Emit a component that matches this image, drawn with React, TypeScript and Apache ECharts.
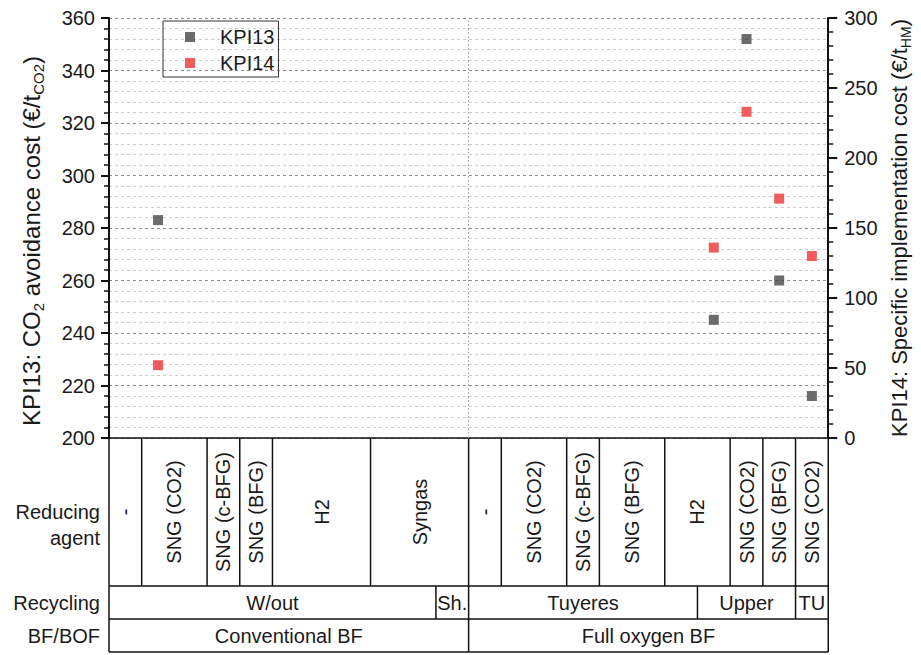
import React, { useEffect, useRef } from 'react';
import * as echarts from 'echarts';

// ---- data ----
const scenarioPositions = [1.5, 18.5, 19.5, 20.5, 21.5];
const kpi13Values = [283, 245, 352, 260, 216];
const kpi14Values = [52, 136, 233, 171, 130];

const reducingLabels = ['-', 'SNG (CO2)', 'SNG (c-BFG)', 'SNG (BFG)', 'H2', 'Syngas', '-', 'SNG (CO2)', 'SNG (c-BFG)', 'SNG (BFG)', 'H2', 'SNG (CO2)', 'SNG (BFG)', 'SNG (CO2)'];
const reducingSpans = [1, 2, 1, 1, 3, 3, 1, 2, 1, 2, 2, 1, 1, 1];
const recyclingLabels = ['W/out', 'Sh.', 'Tuyeres', 'Upper', 'TU'];
const recyclingSpans = [10, 1, 7, 3, 1];
const furnaceLabels = ['Conventional BF', 'Full oxygen BF'];
const furnaceSpans = [11, 11];
const rowTitles = ['Reducing\nagent', 'Recycling', 'BF/BOF'];
const separatorPosition = [11];

const FONT = '"Liberation Sans", Arial, sans-serif';
const TXT = '#1a1a1a';

export default function App() {
  const ref = useRef<HTMLDivElement>(null);
  useEffect(() => {
    if (!ref.current) return;
    const chart = echarts.init(ref.current, null, { renderer: 'svg' });
    const total = reducingSpans.reduce((a, b) => a + b, 0);
    chart.setOption({
      animation: false,
      textStyle: { fontFamily: FONT },
      grid: { left: 109, right: 84, top: 18, bottom: 217 },
      legend: {
        left: 163, top: 21, orient: 'vertical',
        borderColor: '#333', borderWidth: 1, borderRadius: 0,
        padding: [6, 4, 4, 22], itemGap: 6, itemWidth: 10, itemHeight: 10,
        icon: 'rect',
        textStyle: { fontSize: 20, color: TXT, fontFamily: FONT, padding: [0, 0, 0, 20] },
        data: ['KPI13', 'KPI14'],
      },
      xAxis: {
        type: 'value', min: 0, max: total,
        axisLine: { show: true, lineStyle: { color: '#111', width: 1.5 } },
        axisTick: { show: false }, axisLabel: { show: false }, splitLine: { show: false },
      },
      yAxis: [
        {
          type: 'value', min: 200, max: 360, interval: 20, position: 'left',
          name: '{n|KPI13: CO}{s|2}{n| avoidance cost (€/t}{s|CO2}{n|)}',
          nameLocation: 'middle', nameGap: 63, nameRotate: 90,
          nameTextStyle: {
            padding: [0, 26, 0, 0],
            rich: {
              n: { fontSize: 24, color: TXT, fontFamily: FONT },
              s: { fontSize: 15, color: TXT, fontFamily: FONT, padding: [14, 0, 0, 0] },
            },
          },
          axisLine: { show: true, lineStyle: { color: '#111', width: 2 } },
          axisTick: { show: true, inside: false, length: 8, lineStyle: { color: '#111', width: 2 } },
          minorTick: { show: true, splitNumber: 5, length: 5, lineStyle: { color: '#111', width: 1.5 } },
          axisLabel: { fontSize: 20, color: TXT, margin: 14, fontFamily: FONT },
          splitLine: { show: true, lineStyle: { color: '#8c8c8c', type: [3, 3], width: 1 } },
          minorSplitLine: { show: true, lineStyle: { color: '#cccccc', type: [3, 3], width: 1 } },
        },
        {
          type: 'value', min: 0, max: 300, interval: 50, position: 'right',
          name: '{n|KPI14: Specific implementation cost (€/t}{s|HM}{n|)}',
          nameLocation: 'middle', nameGap: 56, nameRotate: 90,
          nameTextStyle: {
            rich: {
              n: { fontSize: 22, color: TXT, fontFamily: FONT },
              s: { fontSize: 14, color: TXT, fontFamily: FONT, padding: [13, 0, 0, 0] },
            },
          },
          axisLine: { show: true, lineStyle: { color: '#111', width: 2 } },
          axisTick: { show: true, inside: false, length: 9, lineStyle: { color: '#111', width: 2 } },
          minorTick: { show: true, splitNumber: 5, length: 5, lineStyle: { color: '#111', width: 1.5 } },
          axisLabel: { fontSize: 20, color: TXT, margin: 16, fontFamily: FONT },
          splitLine: { show: false },
        },
      ],
      series: [
        {
          name: 'KPI13', type: 'scatter', yAxisIndex: 0, symbol: 'rect', symbolSize: 10,
          itemStyle: { color: '#474747' },
          data: scenarioPositions.map((x, i) => [x, kpi13Values[i]]),
          markLine: {
            silent: true, symbol: 'none', label: { show: false },
            lineStyle: { color: '#b0b0b0', type: [2, 2], width: 1 },
            data: separatorPosition.map((x) => ({ xAxis: x })),
          },
        },
        {
          name: 'KPI14', type: 'scatter', yAxisIndex: 1, symbol: 'rect', symbolSize: 10,
          itemStyle: { color: '#ee3535' },
          data: scenarioPositions.map((x, i) => [x, kpi14Values[i]]),
        },
      ],
    });

    // ---- category table under the plot, positioned via the x scale ----
    const px = (v: number) => chart.convertToPixel({ xAxisIndex: 0 }, v) as number;
    const yTop = chart.convertToPixel({ yAxisIndex: 0 }, 200) as number;
    const rowHeights = [148, 33, 33];
    const rows = [
      { labels: reducingLabels, spans: reducingSpans, rotate: true },
      { labels: recyclingLabels, spans: recyclingSpans, rotate: false },
      { labels: furnaceLabels, spans: furnaceSpans, rotate: false },
    ];
    const ls = { stroke: '#111', lineWidth: 1.5 };
    const els: any[] = [];
    const xL = px(0), xR = px(total);
    let top = yTop;
    rows.forEach((row, ri) => {
      const bottom = top + rowHeights[ri];
      els.push({ type: 'line', shape: { x1: xL, y1: bottom, x2: xR, y2: bottom }, style: ls });
      els.push({ type: 'line', shape: { x1: xL, y1: top, x2: xL, y2: bottom }, style: ls });
      els.push({ type: 'line', shape: { x1: xR, y1: top, x2: xR, y2: bottom }, style: ls });
      let start = 0;
      row.labels.forEach((lab, i) => {
        const end = start + row.spans[i];
        const x1 = px(start), x2 = px(end);
        if (end < total) els.push({ type: 'line', shape: { x1: x2, y1: top, x2: x2, y2: bottom }, style: ls });
        els.push({
          type: 'text', x: (x1 + x2) / 2, y: (top + bottom) / 2,
          rotation: row.rotate ? Math.PI / 2 : 0,
          style: { text: lab, fontSize: 20, fontFamily: FONT, fill: TXT, align: 'center', verticalAlign: 'middle' },
        });
        start = end;
      });
      const titleY = ri === 0 ? top + 87 : (top + bottom) / 2;
      els.push({
        type: 'text', x: xL - 9, y: titleY,
        style: { text: rowTitles[ri], fontSize: 20, fontFamily: FONT, fill: TXT, align: 'right', verticalAlign: 'middle', lineHeight: 26 },
      });
      top = bottom;
    });
    chart.setOption({ graphic: els });
    return () => chart.dispose();
  }, []);
  return <div ref={ref} style={{ position: 'fixed', left: 0, top: 0, width: 921, height: 655, background: '#fff' }} />;
}
